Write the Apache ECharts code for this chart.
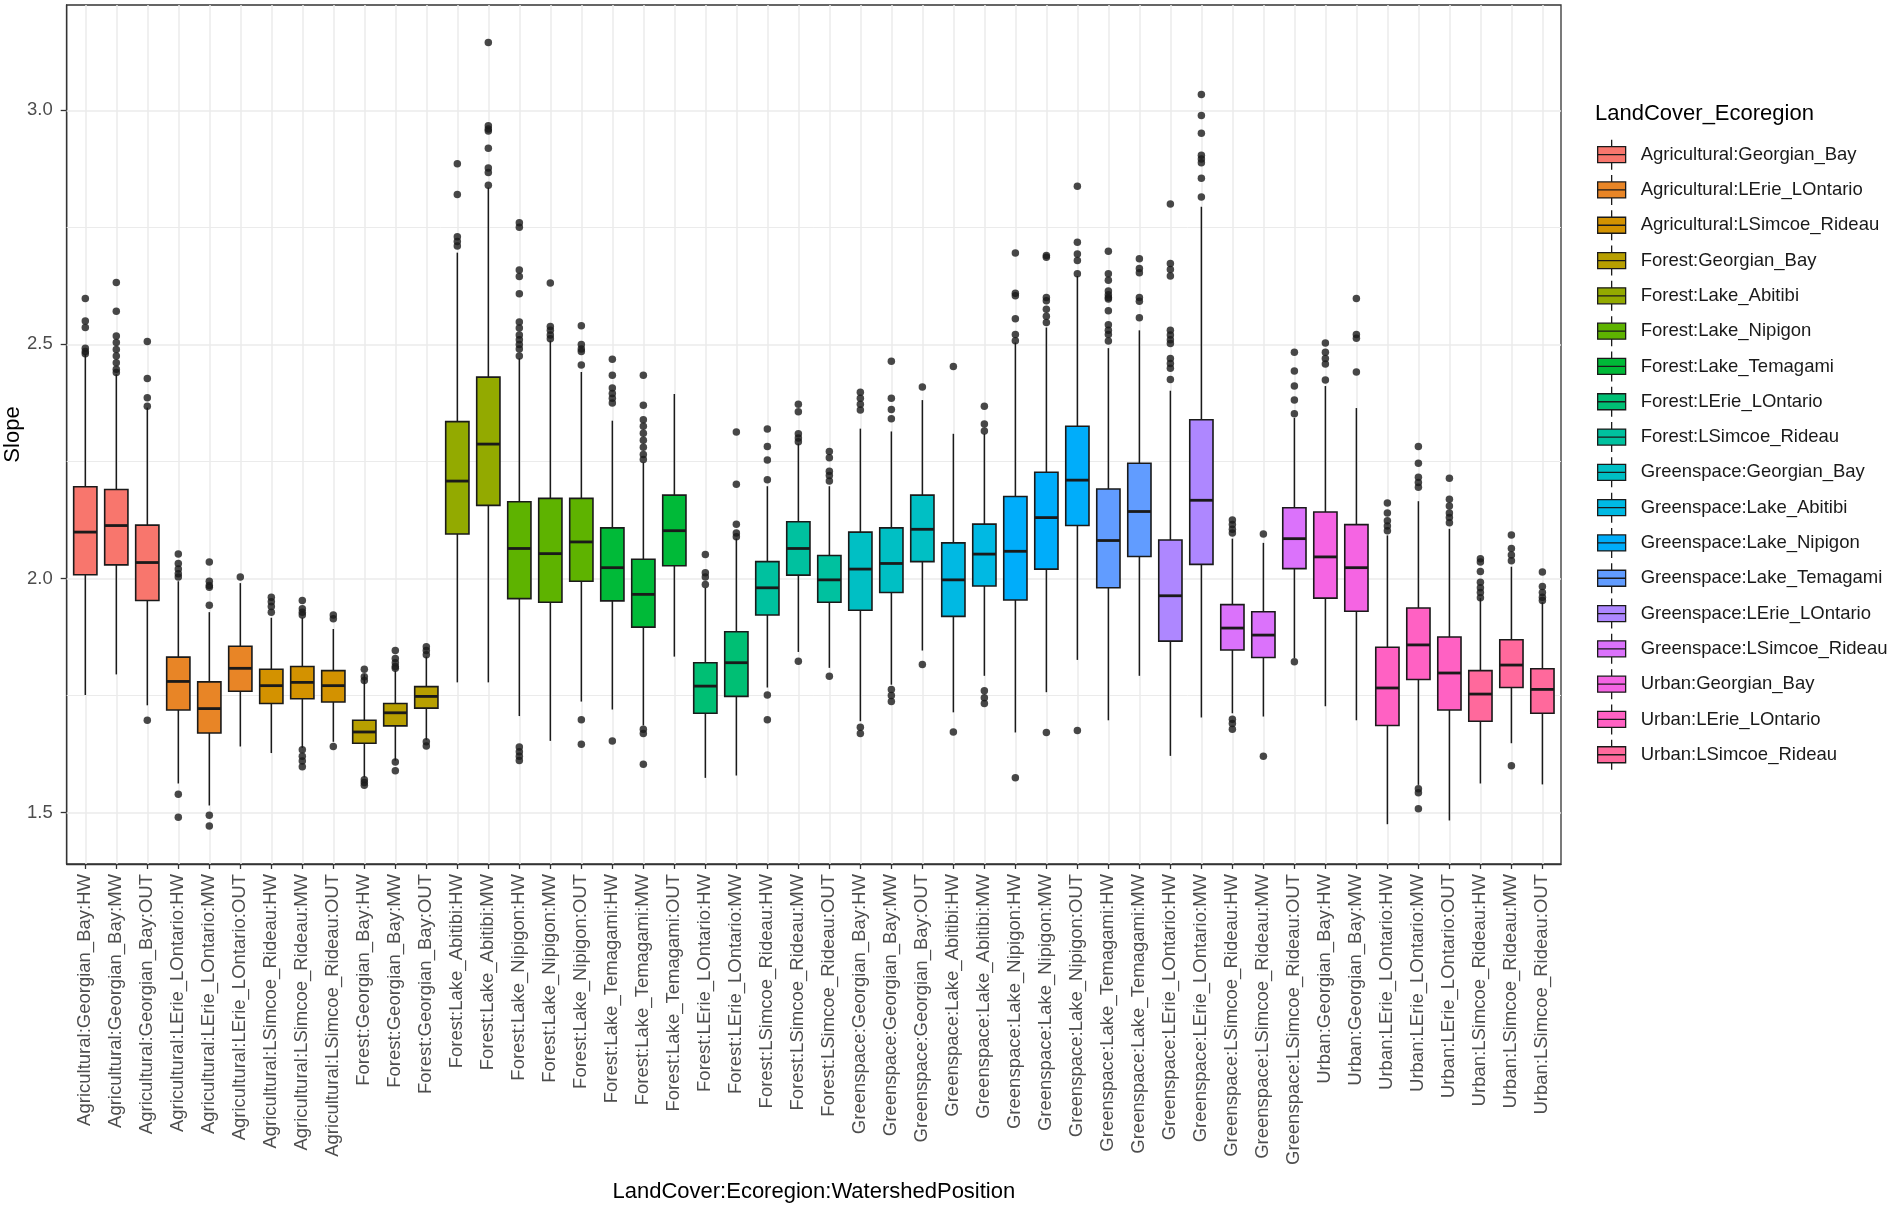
<!DOCTYPE html>
<html>
<head>
<meta charset="utf-8">
<title>Slope by LandCover:Ecoregion:WatershedPosition</title>
<script src="https://cdn.jsdelivr.net/npm/echarts@6/dist/echarts.min.js"></script>
<style>
  html, body { margin: 0; padding: 0; background: #fff; }
  #chart { width: 1902px; height: 1207px; }
</style>
</head>
<body>
<div id="chart"></div>
<script>
// x categories (LandCover:Ecoregion:WatershedPosition)
const categories = [
  'Agricultural:Georgian_Bay:HW', 'Agricultural:Georgian_Bay:MW', 'Agricultural:Georgian_Bay:OUT',
  'Agricultural:LErie_LOntario:HW', 'Agricultural:LErie_LOntario:MW', 'Agricultural:LErie_LOntario:OUT',
  'Agricultural:LSimcoe_Rideau:HW', 'Agricultural:LSimcoe_Rideau:MW', 'Agricultural:LSimcoe_Rideau:OUT',
  'Forest:Georgian_Bay:HW', 'Forest:Georgian_Bay:MW', 'Forest:Georgian_Bay:OUT',
  'Forest:Lake_Abitibi:HW', 'Forest:Lake_Abitibi:MW',
  'Forest:Lake_Nipigon:HW', 'Forest:Lake_Nipigon:MW', 'Forest:Lake_Nipigon:OUT',
  'Forest:Lake_Temagami:HW', 'Forest:Lake_Temagami:MW', 'Forest:Lake_Temagami:OUT',
  'Forest:LErie_LOntario:HW', 'Forest:LErie_LOntario:MW',
  'Forest:LSimcoe_Rideau:HW', 'Forest:LSimcoe_Rideau:MW', 'Forest:LSimcoe_Rideau:OUT',
  'Greenspace:Georgian_Bay:HW', 'Greenspace:Georgian_Bay:MW', 'Greenspace:Georgian_Bay:OUT',
  'Greenspace:Lake_Abitibi:HW', 'Greenspace:Lake_Abitibi:MW',
  'Greenspace:Lake_Nipigon:HW', 'Greenspace:Lake_Nipigon:MW', 'Greenspace:Lake_Nipigon:OUT',
  'Greenspace:Lake_Temagami:HW', 'Greenspace:Lake_Temagami:MW',
  'Greenspace:LErie_LOntario:HW', 'Greenspace:LErie_LOntario:MW',
  'Greenspace:LSimcoe_Rideau:HW', 'Greenspace:LSimcoe_Rideau:MW', 'Greenspace:LSimcoe_Rideau:OUT',
  'Urban:Georgian_Bay:HW', 'Urban:Georgian_Bay:MW',
  'Urban:LErie_LOntario:HW', 'Urban:LErie_LOntario:MW', 'Urban:LErie_LOntario:OUT',
  'Urban:LSimcoe_Rideau:HW', 'Urban:LSimcoe_Rideau:MW', 'Urban:LSimcoe_Rideau:OUT'
];

// fill groups (LandCover_Ecoregion)
const groups = [
  'Agricultural:Georgian_Bay', 'Agricultural:LErie_LOntario', 'Agricultural:LSimcoe_Rideau',
  'Forest:Georgian_Bay', 'Forest:Lake_Abitibi', 'Forest:Lake_Nipigon', 'Forest:Lake_Temagami',
  'Forest:LErie_LOntario', 'Forest:LSimcoe_Rideau',
  'Greenspace:Georgian_Bay', 'Greenspace:Lake_Abitibi', 'Greenspace:Lake_Nipigon',
  'Greenspace:Lake_Temagami', 'Greenspace:LErie_LOntario', 'Greenspace:LSimcoe_Rideau',
  'Urban:Georgian_Bay', 'Urban:LErie_LOntario', 'Urban:LSimcoe_Rideau'
];

// box statistics, one value per category
const whiskerLow = [
  1.751, 1.795, 1.729, 1.562, 1.515, 1.641, 1.627, 1.638, 1.651, 1.575, 1.611, 1.655,
  1.778, 1.778, 1.706, 1.653, 1.737, 1.720, 1.686, 1.833, 1.574, 1.579, 1.767, 1.843,
  1.809, 1.695, 1.773, 1.846, 1.714, 1.792, 1.671, 1.757, 1.826, 1.697, 1.792, 1.621,
  1.703, 1.712, 1.705, 1.830, 1.727, 1.697, 1.475, 1.559, 1.483, 1.562, 1.648, 1.560
];
const q1 = [
  2.008, 2.029, 1.953, 1.719, 1.670, 1.759, 1.733, 1.743, 1.736, 1.648, 1.685, 1.723,
  2.095, 2.156, 1.957, 1.949, 1.994, 1.952, 1.896, 2.027, 1.712, 1.748, 1.922, 2.007,
  1.949, 1.932, 1.970, 2.036, 1.919, 1.984, 1.954, 2.020, 2.113, 1.980, 2.047, 1.866,
  2.030, 1.847, 1.831, 2.021, 1.958, 1.930, 1.686, 1.784, 1.719, 1.695, 1.767, 1.712
];
const median = [
  2.099, 2.113, 2.034, 1.780, 1.722, 1.808, 1.771, 1.778, 1.771, 1.672, 1.713, 1.748,
  2.208, 2.287, 2.064, 2.053, 2.078, 2.023, 1.966, 2.102, 1.770, 1.820, 1.980, 2.064,
  1.997, 2.020, 2.032, 2.105, 1.997, 2.052, 2.058, 2.130, 2.210, 2.081, 2.143, 1.963,
  2.167, 1.894, 1.879, 2.085, 2.046, 2.023, 1.766, 1.858, 1.798, 1.753, 1.815, 1.763
];
const q3 = [
  2.196, 2.190, 2.114, 1.832, 1.779, 1.855, 1.806, 1.812, 1.803, 1.697, 1.733, 1.769,
  2.335, 2.430, 2.164, 2.171, 2.171, 2.108, 2.041, 2.178, 1.820, 1.886, 2.036, 2.121,
  2.049, 2.099, 2.108, 2.178, 2.076, 2.116, 2.175, 2.227, 2.325, 2.191, 2.246, 2.082,
  2.339, 1.944, 1.929, 2.151, 2.142, 2.115, 1.853, 1.937, 1.875, 1.803, 1.869, 1.807
];
const whiskerHigh = [
  2.479, 2.436, 2.365, 1.994, 1.928, 1.990, 1.916, 1.916, 1.892, 1.795, 1.803, 1.833,
  2.696, 2.835, 2.470, 2.508, 2.441, 2.337, 2.248, 2.394, 1.980, 2.085, 2.197, 2.288,
  2.197, 2.320, 2.314, 2.381, 2.309, 2.309, 2.504, 2.536, 2.646, 2.492, 2.530, 2.401,
  2.794, 2.085, 2.076, 2.343, 2.411, 2.364, 2.092, 2.165, 2.106, 1.958, 2.025, 1.949
];
const outliers = [
  [2.598, 2.550, 2.536, 2.492, 2.485, 2.480],
  [2.632, 2.571, 2.518, 2.504, 2.489, 2.475, 2.461, 2.447, 2.440],
  [2.506, 2.427, 2.386, 2.368, 1.697],
  [2.052, 2.032, 2.020, 2.010, 2.003, 1.539, 1.490],
  [2.035, 1.994, 1.985, 1.981, 1.943, 1.494, 1.471],
  [2.003],
  [1.960, 1.950, 1.940, 1.928],
  [1.953, 1.935, 1.928, 1.922, 1.634, 1.620, 1.610, 1.598],
  [1.922, 1.914, 1.641],
  [1.806, 1.790, 1.782, 1.570, 1.564, 1.558],
  [1.846, 1.829, 1.820, 1.812, 1.808, 1.608, 1.589],
  [1.854, 1.846, 1.837, 1.651, 1.642],
  [2.886, 2.820, 2.730, 2.720, 2.710],
  [3.145, 2.967, 2.960, 2.956, 2.919, 2.877, 2.867, 2.840],
  [2.760, 2.750, 2.659, 2.645, 2.608, 2.548, 2.535, 2.520, 2.510, 2.500, 2.490, 2.475, 1.640, 1.630, 1.620, 1.611],
  [2.631, 2.538, 2.530, 2.520, 2.512],
  [2.540, 2.500, 2.490, 2.485, 2.456, 1.698, 1.646],
  [2.468, 2.434, 2.407, 2.395, 2.385, 2.375, 1.653],
  [2.434, 2.370, 2.339, 2.325, 2.310, 2.295, 2.280, 2.265, 2.254, 1.678, 1.669, 1.603],
  [],
  [2.051, 2.012, 2.003, 1.987],
  [2.313, 2.201, 2.116, 2.097, 2.089],
  [2.319, 2.282, 2.253, 2.211, 1.751, 1.698],
  [2.372, 2.356, 2.309, 2.300, 2.292, 1.823],
  [2.271, 2.258, 2.229, 2.220, 2.208, 1.791],
  [2.398, 2.385, 2.372, 2.360, 1.682, 1.669],
  [2.464, 2.385, 2.361, 2.341, 1.763, 1.750, 1.737],
  [2.409, 1.816],
  [2.453, 1.672],
  [2.368, 2.330, 2.315, 1.760, 1.745, 1.733],
  [2.695, 2.609, 2.604, 2.555, 2.521, 2.508, 1.574],
  [2.690, 2.686, 2.600, 2.593, 2.575, 2.560, 2.547, 1.671],
  [2.838, 2.718, 2.693, 2.679, 2.651, 1.675],
  [2.699, 2.651, 2.637, 2.614, 2.606, 2.600, 2.597, 2.572, 2.542, 2.530, 2.521, 2.507],
  [2.683, 2.662, 2.653, 2.600, 2.592, 2.557],
  [2.800, 2.673, 2.660, 2.646, 2.530, 2.520, 2.510, 2.502, 2.470, 2.459, 2.449, 2.425],
  [3.034, 2.989, 2.951, 2.904, 2.896, 2.888, 2.855, 2.815],
  [2.125, 2.115, 2.105, 2.097, 1.699, 1.690, 1.678],
  [2.095, 1.620],
  [2.483, 2.443, 2.411, 2.381, 2.352, 1.822],
  [2.503, 2.483, 2.470, 2.458, 2.424],
  [2.598, 2.521, 2.513, 2.441],
  [2.161, 2.140, 2.123, 2.112, 2.102],
  [2.282, 2.246, 2.216, 2.205, 2.195, 1.551, 1.542, 1.508],
  [2.214, 2.169, 2.155, 2.140, 2.130, 2.119],
  [2.042, 2.035, 2.015, 1.992, 1.980, 1.970, 1.959],
  [2.093, 2.064, 2.050, 2.038, 1.600],
  [2.014, 1.983, 1.970, 1.960, 1.953]
];

const yTicks = [1.5, 2.0, 2.5, 3.0];
const yMinorTicks = [1.75, 2.25, 2.75];

const FONT = '"Liberation Sans", Arial, sans-serif';
const INK = '#1a1a1a';

// ggplot2 default hue palette: hcl(h, c = 100, l = 65), same maths as grDevices::hcl
function hcl(h, c, l) {
  const rad = h * Math.PI / 180;
  const U = c * Math.cos(rad), V = c * Math.sin(rad);
  const Y = 100 * Math.pow((l + 16) / 116, 3);
  const u = U / (13 * l) + 0.1978398, v = V / (13 * l) + 0.4683363;
  const X = 9 * Y * u / (4 * v);
  const Z = -X / 3 - 5 * Y + 3 * Y / v;
  const gam = t => (t > 0.00304 ? 1.055 * Math.pow(t, 1 / 2.4) - 0.055 : 12.92 * t);
  const rgb = [
    (3.240479 * X - 1.537150 * Y - 0.498535 * Z) / 100,
    (-0.969256 * X + 1.875992 * Y + 0.041556 * Z) / 100,
    (0.055648 * X - 0.204043 * Y + 1.057311 * Z) / 100
  ].map(t => Math.round(255 * Math.min(1, Math.max(0, gam(t)))));
  return '#' + rgb.map(n => n.toString(16).padStart(2, '0')).join('');
}
const palette = groups.map((g, i) => hcl(15 + i * 360 / groups.length, 100, 65));

function groupOf(name) {
  return groups.indexOf(name.slice(0, name.lastIndexOf(':')));
}

const catIndex = categories.map((c, i) => i);
const boxData = categories.map((name, i) =>
  [i, whiskerLow[i], q1[i], median[i], q3[i], whiskerHigh[i], groupOf(name)]);
const outlierData = [];
outliers.forEach((list, i) => list.forEach(v => outlierData.push([i, v])));

// ggplot style box: whiskers without caps, fat median
function renderBox(params, api) {
  const x = api.value(0);
  const lo = api.coord([x, api.value(1)]);
  const b1 = api.coord([x, api.value(2)]);
  const md = api.coord([x, api.value(3)]);
  const b3 = api.coord([x, api.value(4)]);
  const hi = api.coord([x, api.value(5)]);
  const w = api.size([0.75, 0])[0];
  const thin = { stroke: INK, lineWidth: 1.5 };
  return {
    type: 'group',
    children: [
      { type: 'line', shape: { x1: lo[0], y1: lo[1], x2: b1[0], y2: b1[1] }, style: thin },
      { type: 'line', shape: { x1: hi[0], y1: hi[1], x2: b3[0], y2: b3[1] }, style: thin },
      { type: 'rect', shape: { x: b3[0] - w / 2, y: b3[1], width: w, height: b1[1] - b3[1] },
        style: { fill: palette[api.value(6)], stroke: INK, lineWidth: 1.6 } },
      { type: 'line', shape: { x1: md[0] - w / 2, y1: md[1], x2: md[0] + w / 2, y2: md[1] },
        style: { stroke: INK, lineWidth: 2.8 } }
    ]
  };
}

const gridLines = []
  .concat(yTicks.map(v => ({ yAxis: v, lineStyle: { width: 1.5 } })))
  .concat(yMinorTicks.map(v => ({ yAxis: v, lineStyle: { width: 1 } })))
  .concat(catIndex.map(i => ({ xAxis: i, lineStyle: { width: 1.5 } })));

// empty series just to feed the legend
const legendSeries = groups.map((g, i) => ({
  name: g,
  type: 'bar',
  data: [],
  itemStyle: { color: palette[i] }
}));

const chart = echarts.init(document.getElementById('chart'));

chart.setOption({
  backgroundColor: '#ffffff',
  animation: false,
  textStyle: { fontFamily: FONT },
  title: {
    text: 'LandCover_Ecoregion',
    left: 1595,
    top: 103,
    padding: 0,
    textStyle: { fontSize: 22, fontWeight: 'normal', color: '#000', fontFamily: FONT }
  },
  // y axis title placed by hand, the axis name kept drifting off the page
  graphic: [{
    type: 'text',
    x: 13,
    y: 434.5,
    rotation: Math.PI / 2,
    style: {
      text: 'Slope',
      fill: '#000',
      font: '22px ' + FONT,
      align: 'center',
      verticalAlign: 'middle'
    }
  }],
  legend: {
    data: groups,
    orient: 'vertical',
    left: 1597,
    top: 139,
    padding: 0,
    itemWidth: 28,
    itemHeight: 30,
    itemGap: 4.0,
    selectedMode: false,
    icon: 'path://M14,0L14,7M0,7L28,7L28,23L0,23ZM0,15L28,15M14,23L14,30',
    itemStyle: { borderColor: INK, borderWidth: 1.3 },
    textStyle: { fontSize: 18.5, color: '#1a1a1a', fontFamily: FONT, padding: [0, 0, 0, 10] }
  },
  grid: {
    left: 66.7,
    right: 341,
    top: 5,
    bottom: 343,
    outerBoundsMode: 'none',
    show: true,
    borderColor: '#333333',
    borderWidth: 1.3
  },
  xAxis: {
    type: 'value',
    min: -0.6,
    max: 47.6,
    name: 'LandCover:Ecoregion:WatershedPosition',
    nameLocation: 'middle',
    nameGap: 317,
    nameTextStyle: { fontSize: 22, color: '#000', fontFamily: FONT },
    axisLine: { onZero: false, lineStyle: { color: '#333333', width: 1.3 } },
    axisTick: { customValues: catIndex, length: 5, lineStyle: { color: '#333333', width: 1.3 } },
    axisLabel: {
      customValues: catIndex,
      rotate: 90,
      margin: 10,
      fontSize: 18.5,
      color: '#4d4d4d',
      fontFamily: FONT,
      formatter: v => categories[v]
    },
    splitLine: { show: false }
  },
  yAxis: {
    type: 'value',
    min: 1.39,
    max: 3.225,
    axisLine: { onZero: false, lineStyle: { color: '#333333', width: 1.3 } },
    axisTick: { customValues: yTicks, length: 6, lineStyle: { color: '#333333', width: 1.3 } },
    axisLabel: {
      customValues: yTicks,
      margin: 14,
      fontSize: 18.5,
      color: '#4d4d4d',
      fontFamily: FONT,
      formatter: v => v.toFixed(1)
    },
    splitLine: { show: false }
  },
  series: [
    {
      name: 'boxes',
      type: 'custom',
      renderItem: renderBox,
      encode: { x: 0, y: [1, 2, 3, 4, 5] },
      data: boxData,
      z: 2
    },
    {
      name: 'outliers',
      type: 'scatter',
      data: outlierData,
      symbol: 'circle',
      symbolSize: 7.5,
      itemStyle: { color: '#1a1a1a' },
      z: 3,
      markLine: {
        silent: true,
        z: 1,
        symbol: ['none', 'none'],
        label: { show: false },
        lineStyle: { color: '#ebebeb', type: 'solid' },
        data: gridLines
      }
    }
  ].concat(legendSeries)
});
</script>
</body>
</html>
